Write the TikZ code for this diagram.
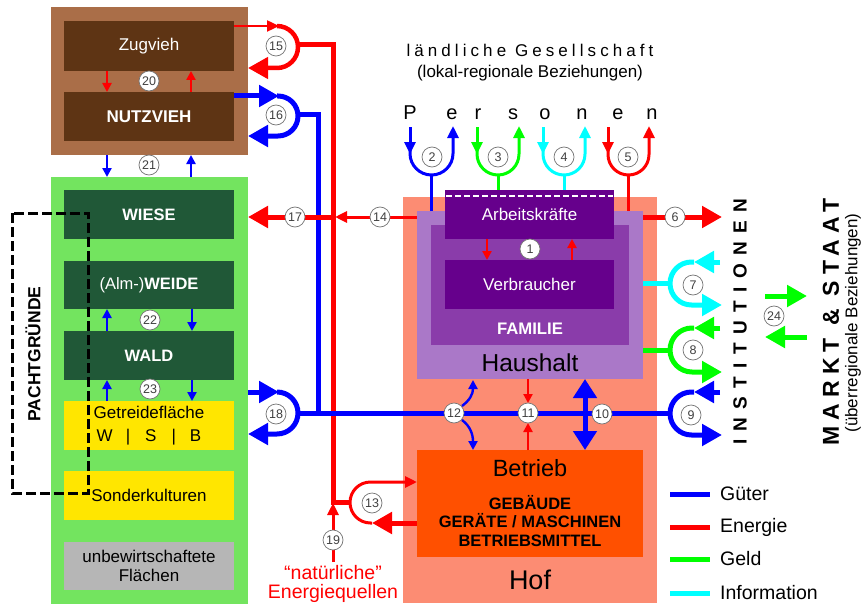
\documentclass[tikz,border=0pt]{standalone}
\usepackage{fontspec}
\setmainfont{Liberation Sans}
\usetikzlibrary{arrows.meta}
\newcommand\fsz[1]{\fontsize{#1}{#1}\selectfont}
\definecolor{brownO}{RGB}{170,110,72}
\definecolor{brownD}{RGB}{94,52,20}
\definecolor{greenL}{RGB}{115,228,95}
\definecolor{greenD}{RGB}{32,88,55}
\definecolor{yel}{RGB}{255,230,0}
\definecolor{grayB}{RGB}{182,182,182}
\definecolor{salm}{RGB}{252,140,115}
\definecolor{lpurp}{RGB}{170,120,200}
\definecolor{mpurp}{RGB}{138,60,170}
\definecolor{dpurp}{RGB}{102,0,140}
\definecolor{orng}{RGB}{255,80,0}
\definecolor{pblue}{RGB}{0,0,255}
\definecolor{pred}{RGB}{255,0,0}
\definecolor{pgreen}{RGB}{0,255,0}
\definecolor{pcyan}{RGB}{0,255,255}
\begin{document}
\begin{tikzpicture}[x=1pt,y=-1pt,
  bx/.style={rectangle,inner sep=0pt,draw=none},
  wtxt/.style={text=white,font=\fsz{17}},
  numc/.style={circle,draw=black!55,line width=0.7pt,fill=white,inner sep=0pt,minimum size=20pt,font=\fsz{12.5},text=black!75},
  lwA/.style={line width=5pt},
  lwB/.style={line width=3pt},
  lwC/.style={line width=2.4pt},
  arrBig/.style={-{Triangle[length=20pt,width=21pt]}},
  arrMid/.style={-{Triangle[length=12pt,width=11pt]}},
  arrSml/.style={-{Triangle[length=9pt,width=9pt]}},
]
\useasboundingbox (0,0) rectangle (861,607);

% ---------- Vieh
\node[bx,fill=brownO,minimum width=197pt,minimum height=148pt] (vieh) at (149.5,81) {};
\node[bx,fill=brownD,minimum width=170pt,minimum height=50pt,wtxt] (zug) at (149,46) {Zugvieh};
\node[bx,fill=brownD,minimum width=170pt,minimum height=49pt,wtxt,font=\fsz{17}\bfseries] (nutz) at (149,116.5) {NUTZVIEH};

% ---------- Flur
\node[bx,fill=greenL,minimum width=197pt,minimum height=427pt] (flur) at (149.5,390.5) {};
\node[bx,fill=greenD,minimum width=170pt,minimum height=49pt,wtxt,font=\fsz{16.5}\bfseries] (wiese) at (149,214.5) {WIESE};
\node[bx,fill=greenD,minimum width=170pt,minimum height=48pt,wtxt,font=\fsz{16.5}] (weide) at (149,285) {(Alm-)\textbf{WEIDE}};
\node[bx,fill=greenD,minimum width=170pt,minimum height=49pt,wtxt,font=\fsz{16.5}\bfseries] (wald) at (149,355.5) {WALD};
\node[bx,fill=yel,minimum width=170pt,minimum height=49pt,align=center,font=\fontsize{17}{23}\selectfont] (getr) at (149,425.5) {Getreidefläche\\W\hspace{13pt}|\hspace{15pt}S\hspace{15pt}|\hspace{14pt}B};
\node[bx,fill=yel,minimum width=170pt,minimum height=49pt,font=\fsz{17}] (sonder) at (149,495.5) {Sonderkulturen};
\node[bx,fill=grayB,minimum width=170pt,minimum height=48pt,align=center,font=\fontsize{17}{19.5}\selectfont] (unbew) at (149,566) {unbewirtschaftete\\Flächen};

% ---------- Pachtgruende
\draw[black,line width=3pt,dash pattern=on 10pt off 4pt] (12,213) rectangle (88,493);
\node[rotate=90,font=\fsz{17.5}\bfseries,inner sep=0pt] (pacht) at (33,354) {PACHTGRÜNDE};

% ---------- Hof
\node[bx,fill=salm,minimum width=254pt,minimum height=406pt] (hof) at (530,400) {};
\node[bx,fill=lpurp,minimum width=226pt,minimum height=168pt] (haus) at (530,295) {};
\node[bx,fill=mpurp,minimum width=198pt,minimum height=120pt] (fam) at (530,285) {};
\node[bx,fill=dpurp,minimum width=169pt,minimum height=49pt,wtxt] (arb) at (529.5,214.5) {Arbeitskräfte};
\draw[white,line width=1.5pt,dash pattern=on 6pt off 3pt] (446,196) -- (613,196);
\node[bx,fill=dpurp,minimum width=169pt,minimum height=49pt,wtxt] (verb) at (529.5,284.5) {Verbraucher};
\node[font=\fsz{16.7}\bfseries,text=white,inner sep=0pt] (famlbl) at (530,329) {FAMILIE};
\node[font=\fsz{24.5},inner sep=0pt] (hauslbl) at (530,363) {Haushalt};
\node[bx,fill=orng,minimum width=226pt,minimum height=107pt] (betr) at (530,503.5) {};
\node[font=\fsz{23.5},inner sep=0pt] (betrlbl) at (530,468) {Betrieb};
\node[font=\fontsize{16.5}{18.5}\selectfont\bfseries,align=center,inner sep=0pt] (betrtxt) at (530,521) {GEBÄUDE\\GERÄTE / MASCHINEN\\BETRIEBSMITTEL};
\node[font=\fsz{27},inner sep=0pt] (hoflbl) at (530,580) {Hof};

% ---------- headings
\node[font=\fsz{17},inner sep=0pt] (gesell) at (530,50) {\addfontfeature{LetterSpace=24}ländliche Gesellschaft};
\node[font=\fsz{17},inner sep=0pt] (lokal) at (530,73) {(lokal-regionale Beziehungen)};
\foreach \ch/\xx [count=\i] in {P/410,e/452,r/478,s/513,o/545,n/582,e/618,n/652}
  \node[font=\fsz{20},anchor=base,inner sep=0pt] (pers\i) at (\xx,120) {\ch};
\node[rotate=90,font=\fsz{19}\bfseries,inner sep=0pt] (inst) at (740,322) {\addfontfeature{LetterSpace=44}INSTITUTIONEN};
\node[rotate=90,font=\fsz{23}\bfseries,inner sep=0pt] (markt) at (831,322) {\addfontfeature{LetterSpace=27}MARKT \& STAAT};
\node[rotate=90,font=\fsz{17},inner sep=0pt] (ueber) at (853,323) {(überregionale Beziehungen)};
\node[font=\fsz{19.5},text=pred,align=center,inner sep=0pt] (natur) at (333,584) {“natürliche”\\Energiequellen};

% ---------- connectors
% 15
\draw[pred,lwC,arrMid] (234,26) -- (279,26);
\draw[pred,line width=4.5pt,rounded corners=21pt,arrBig] (277,26) -- (298,26) -- (298,68) -- (248,68);
\draw[pred,lwA] (298,45) -- (333,45) -- (333,502) -- (350,502);
% 16
\draw[pblue,lwA,arrBig] (234,96) -- (279,96);
\draw[pblue,lwA,rounded corners=20pt,arrBig] (277,96) -- (298,96) -- (298,136) -- (248,136);
\draw[pblue,lwA] (298,115) -- (318,115) -- (318,413);
% 18
\draw[pblue,lwA,arrBig] (248,392) -- (279,392);
\draw[pblue,lwA,rounded corners=21pt,arrBig] (277,392) -- (298,392) -- (298,434) -- (248,434);
\draw[pblue,lwA] (298,413) -- (670,413);
% 17 / 14
\draw[pred,lwA,arrBig] (333,217) -- (248,217);
\draw[pred,lwB,arrMid] (417,217) -- (335,217);
% 13
\draw[pred,lwB,rounded corners=20.5pt,arrMid] (372,523) -- (350,523) -- (350,482) -- (417,482);
\draw[pred,lwA,arrBig] (417,523) -- (372,523);
% 19
\draw[pred,lwB,arrMid] (333,562) -- (333,503);
% 2-5
\draw[pblue,lwB,arrMid] (410,127) -- (410,154);
\draw[pblue,lwB,rounded corners=21.5pt,arrMid] (410,150) -- (410,175) -- (453,175) -- (453,126);
\draw[pblue,lwB] (431.5,175) -- (431.5,211);
\draw[pgreen,lwB,arrMid] (477,127) -- (477,154);
\draw[pgreen,lwB,rounded corners=21pt,arrMid] (477,150) -- (477,175) -- (519,175) -- (519,126);
\draw[pgreen,lwB] (498,175) -- (498,190);
\draw[pcyan,lwB,arrMid] (543,127) -- (543,154);
\draw[pcyan,lwB,rounded corners=21pt,arrMid] (543,150) -- (543,175) -- (585,175) -- (585,126);
\draw[pcyan,lwB] (564,175) -- (564,190);
\draw[pred,lwB,arrMid] (608,127) -- (608,154);
\draw[pred,lwB,rounded corners=20.5pt,arrMid] (608,150) -- (608,175) -- (649,175) -- (649,126);
\draw[pred,lwB] (628.5,175) -- (628.5,211);
% 6
\draw[pred,lwA,arrBig] (643,217) -- (722,217);
% 7
\draw[pcyan,lwA] (643,283.5) -- (670,283.5);
\draw[pcyan,lwA,rounded corners=21.5pt,arrBig] (694,262) -- (670,262) -- (670,305) -- (722,305);
\draw[pcyan,lwA,arrBig] (720,262) -- (694,262);
% 8
\draw[pgreen,lwA] (643,350) -- (670,350);
\draw[pgreen,lwA,rounded corners=22pt,arrBig] (694,328) -- (670,328) -- (670,372) -- (722,372);
\draw[pgreen,lwA,arrBig] (720,328) -- (694,328);
% 9
\draw[pblue,lwA,rounded corners=21.5pt,arrBig] (694,392) -- (670,392) -- (670,435) -- (722,435);
\draw[pblue,lwA,arrBig] (720,392) -- (694,392);
% 10
\draw[pblue,lwA,{Triangle[length=19pt,width=23pt]}-{Triangle[length=19pt,width=23pt]}] (585,379) -- (585,450);
% 11
\draw[pred,lwC,arrSml] (528,379) -- (528,403);
\draw[pred,lwC,arrSml] (528,450) -- (528,423);
% 12
\draw[pblue,lwC,arrSml] (462,406) .. controls (470,400) and (473,394) .. (473,380);
\draw[pblue,lwC,arrSml] (462,420) .. controls (470,426) and (473,434) .. (473,450);
% 1
\draw[pred,lwC,arrSml] (487,239) -- (487,260);
\draw[pred,lwC,arrSml] (572,260) -- (572,239);
% 20
\draw[pred,lwC,arrSml] (107,71) -- (107,92);
\draw[pred,lwC,arrSml] (191,92) -- (191,71);
% 21
\draw[pblue,lwC,arrSml] (107,155) -- (107,177);
\draw[pblue,lwC,arrSml] (191,177) -- (191,155);
% 22
\draw[pblue,lwC,arrSml] (107,331) -- (107,309);
\draw[pblue,lwC,arrSml] (192,309) -- (192,331);
% 23
\draw[pblue,lwC,arrSml] (107,401) -- (107,380);
\draw[pblue,lwC,arrSml] (192,380) -- (192,401);
% 24
\draw[pgreen,lwA,arrBig] (765,296) -- (807,296);
\draw[pgreen,lwA,arrBig] (807,337) -- (765,337);

% ---------- legend
\coordinate (lgA) at (670,494); \coordinate (lgB) at (710,494);
\draw[pblue,lwA] (lgA) -- (lgB);
\draw[pred,lwA] (670,527) -- (710,527);
\draw[pgreen,lwA] (670,559) -- (710,559);
\draw[pcyan,lwA] (670,593) -- (710,593);
\node[anchor=west,font=\fsz{19.5},inner sep=0pt] (lg1) at (720,494) {Güter};
\node[anchor=west,font=\fsz{19.5},inner sep=0pt] (lg2) at (720,527) {Energie};
\node[anchor=west,font=\fsz{19.5},inner sep=0pt] (lg3) at (720,559) {Geld};
\node[anchor=west,font=\fsz{19.5},inner sep=0pt] (lg4) at (720,593) {Information};

% ---------- number circles
\foreach \nn/\xx/\yy in {1/530/249,2/432/157,3/498/157,4/564/157,5/628/157,6/675/217,7/693/285,8/693/350,9/691/415,10/602/414,11/528/413,12/454/413,13/372/503,14/380/217,15/276/46,16/276/115,17/295/217,18/276/414,19/333/540,20/149/81,21/149/165,22/150/320,23/150/389,24/774/316}
  \node[numc] (c\nn) at (\xx,\yy) {\nn};
\end{tikzpicture}
\end{document}
